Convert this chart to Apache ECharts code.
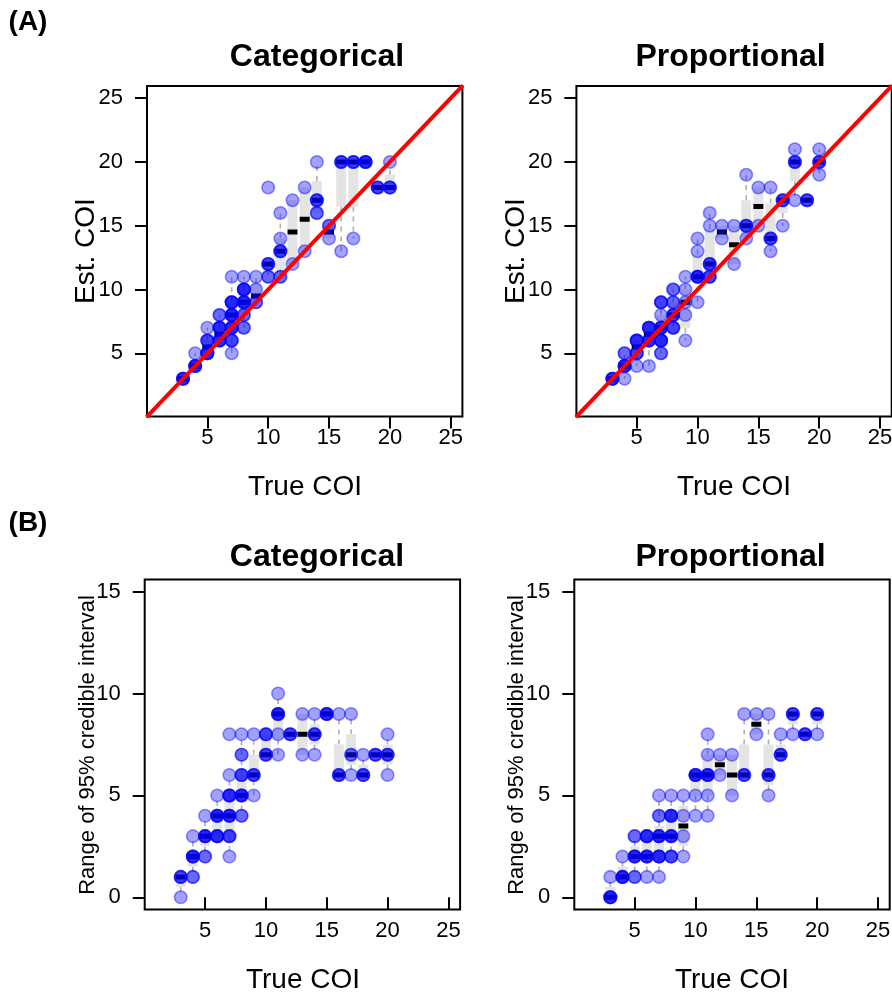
<!DOCTYPE html>
<html><head><meta charset="utf-8">
<script src="https://cdn.jsdelivr.net/npm/echarts@6/dist/echarts.min.js"></script>
<style>html,body{margin:0;padding:0;background:#fff}#c{width:892px;height:995px}</style>
</head><body><div id="c"></div><script>
// ---------- data ----------
const xTicks = [5, 10, 15, 20, 25];
const estTicks = [5, 10, 15, 20, 25];
const rangeTicks = [0, 5, 10, 15];
const panelTitles = ['Categorical', 'Proportional'];
const refLine = [[0, 0], [26, 26]];

// points: [true COI, value, number of overlapping samples]
const catEstPts = [
  [3,3,4],[4,4,4],[4,5,1],[5,5,4],[5,6,3],[5,7,1],[6,6,4],[6,7,4],[6,8,2],
  [7,5,1],[7,6,3],[7,7,4],[7,8,4],[7,9,4],[7,11,1],
  [8,7,2],[8,8,2],[8,9,4],[8,10,4],[8,11,1],
  [9,9,2],[9,10,1],[9,11,1],[10,11,2],[10,12,3],[10,18,1],
  [11,11,2],[11,13,3],[11,14,1],[11,16,1],[12,12,1],[12,17,1],[13,13,1],[13,18,1],
  [14,16,2],[14,17,3],[14,20,1],[15,14,1],[15,15,2],[16,13,1],[16,20,3],
  [17,14,1],[17,20,3],[18,20,4],[19,18,3],[20,18,3],[20,20,1]
];
// boxes: [true COI, whisker low, Q1, median, Q3, whisker high]
const catEstBox = [
  [3,3,3,3,3,3],[4,4,4,4,4,5],[5,5,5,5.5,6,7],[6,6,6,6.5,7,8],[7,5,7,8,9,11],
  [8,7,8,9,10,11],[9,9,9,9.5,10.5,11],[10,11,11.5,12,12,12],[11,11,11.5,13,14,16],
  [12,12,12,14.5,17,17],[13,13,13,15.5,18,18],[14,16,16,17,18.5,20],[15,14,14,14.5,15,15],
  [16,13,16.5,20,20,20],[17,14,16.5,20,20,20],[18,20,20,20,20,20],[19,18,18,18,18,18],
  [20,18,18,18,19,20]
];
const propEstPts = [
  [3,3,4],[4,3,1],[4,4,4],[4,5,2],[5,4,1],[5,5,3],[5,6,4],[6,4,1],[6,6,4],[6,7,4],
  [7,5,2],[7,6,4],[7,7,4],[7,8,1],[7,9,3],[8,7,3],[8,8,3],[8,9,2],[8,10,2],
  [9,6,1],[9,8,1],[9,9,1],[9,10,1],[9,11,1],[10,9,1],[10,11,4],[10,13,1],[10,14,1],
  [11,11,3],[11,12,3],[11,15,1],[11,16,1],[12,14,1],[12,15,1],[13,12,1],[13,15,1],
  [14,14,1],[14,15,3],[14,19,1],[15,15,1],[15,18,1],[16,13,1],[16,14,3],[16,18,1],
  [17,15,1],[17,17,3],[18,17,1],[18,20,3],[18,21,1],[19,17,3],[20,19,1],[20,20,3],[20,21,1]
];
const propEstBox = [
  [3,3,3,3,3,3],[4,3,4,4,4.5,5],[5,4,5,5.5,6,6],[6,4,6,6.5,7,7],[7,5,6,7,8,9],
  [8,7,7.5,8,9,10],[9,6,7,9,10,11],[10,9,11,11,12.75,14],[11,11,11.5,12,14.75,16],
  [12,14,14,14.5,15,15],[13,12,12,13.5,15,15],[14,14,14,15,17,19],[15,15,15,16.5,18,18],
  [16,13,14,14,16.75,18],[17,15,16,17,17,17],[18,17,18.5,20,20,21],[19,17,17,17,17,17],
  [20,19,19.5,20,20,21]
];
const catRangePts = [
  [3,0,1],[3,1,3],[4,1,2],[4,2,4],[4,3,1],[5,2,2],[5,3,4],[5,4,1],[6,3,4],[6,4,4],[6,5,1],
  [7,2,1],[7,3,3],[7,4,4],[7,5,4],[7,6,1],[7,8,1],[8,4,2],[8,5,4],[8,6,3],[8,7,2],[8,8,1],
  [9,5,1],[9,6,3],[9,8,1],[10,7,3],[10,8,3],[11,7,1],[11,8,1],[11,9,4],[11,10,1],
  [12,8,3],[13,7,1],[13,9,1],[14,7,1],[14,8,3],[14,9,1],[15,9,4],[16,6,3],[16,9,1],
  [17,6,1],[17,7,2],[17,9,1],[18,6,3],[18,7,1],[19,7,3],[20,6,1],[20,7,3],[20,8,1]
];
const catRangeBox = [
  [3,0,0.5,1,1,1],[4,1,1.5,2,2,3],[5,2,2.5,3,3,4],[6,3,3,4,4,5],[7,2,3,4,5,6],
  [8,4,5,5,6,8],[9,5,5.75,6,7,8],[10,7,7,7,8,8],[11,7,7.75,9,9,10],[12,8,8,8,8,8],
  [13,7,7,8,9,9],[14,7,7.5,8,8.5,9],[15,9,9,9,9,9],[16,6,6,6,7.5,9],[17,6,6.5,7,8,9],
  [18,6,6,6,6.5,7],[19,7,7,7,7,7],[20,6,6.5,7,7.5,8]
];
const propRangePts = [
  [3,0,4],[3,1,1],[4,1,4],[4,2,1],[5,1,2],[5,2,4],[5,3,2],[6,1,1],[6,2,4],[6,3,4],
  [7,1,1],[7,2,4],[7,3,4],[7,4,2],[7,5,1],[8,2,3],[8,3,4],[8,4,4],[8,5,1],
  [9,2,1],[9,3,1],[9,4,1],[9,5,1],[10,4,1],[10,5,1],[10,6,4],
  [11,4,1],[11,5,1],[11,6,4],[11,7,1],[11,8,1],[12,6,1],[12,7,1],[13,5,1],[13,7,1],
  [14,6,3],[14,9,1],[15,8,1],[15,9,1],[16,5,1],[16,6,3],[16,9,1],[17,7,3],[17,8,1],
  [18,8,1],[18,9,3],[19,8,3],[20,8,1],[20,9,3]
];
const propRangeBox = [
  [3,0,0,0,0.5,1],[4,1,1,1,1.5,2],[5,1,2,2,2.5,3],[6,1,2,2,3,3],[7,1,2,3,3.5,5],
  [8,2,3,3,4,5],[9,2,2.5,3.5,4.5,5],[10,4,5,6,6,6],[11,4,5,6,7,8],[12,6,6,6.5,7,7],
  [13,5,5,6,7,7],[14,6,6,6,7.5,9],[15,8,8,8.5,9,9],[16,5,5.5,6,7.5,9],[17,7,7,7,7.5,8],
  [18,8,8.5,9,9,9],[19,8,8,8,8,8],[20,8,8.5,9,9,9]
];

// ---------- chart ----------
const FONT = "'Liberation Sans', Arial, Helvetica, sans-serif";
const BOXW = 0.82;
function expand(pts){ const out=[]; pts.forEach(p=>{ for(let i=0;i<p[2];i++) out.push([p[0],p[1]]); }); return out; }

function renderBox(params, api){
  const x=api.value(0), lo=api.value(1), q1=api.value(2), med=api.value(3), q3=api.value(4), hi=api.value(5);
  const hw = api.size([BOXW,0])[0]/2;
  const pLo=api.coord([x,lo]), pQ1=api.coord([x,q1]), pMed=api.coord([x,med]), pQ3=api.coord([x,q3]), pHi=api.coord([x,hi]);
  const cx=pMed[0];
  const wStyle={stroke:'#b0b0b0', lineWidth:1.6, lineDash:[5,5]};
  const ch=[];
  if (pHi[1] < pQ3[1]-0.5) ch.push({type:'line', shape:{x1:cx,y1:pQ3[1],x2:cx,y2:pHi[1]}, style:wStyle});
  if (pLo[1] > pQ1[1]+0.5) ch.push({type:'line', shape:{x1:cx,y1:pQ1[1],x2:cx,y2:pLo[1]}, style:wStyle});
  ch.push({type:'rect', shape:{x:cx-hw, y:pQ3[1], width:2*hw, height:Math.max(0,pQ1[1]-pQ3[1])}, style:{fill:'#e4e4e4'}});
  ch.push({type:'rect', shape:{x:cx-hw, y:pMed[1]-2.5, width:2*hw, height:5}, style:{fill:'#000'}});
  return {type:'group', children:ch};
}

const grids = [
  {left:147, top:86, width:315.4, height:330.5},
  {left:576.4, top:86, width:315.3, height:330.5},
  {left:144.7, top:579.5, width:315.4, height:330},
  {left:574.3, top:579.5, width:315.4, height:330}
].map(g=>Object.assign({show:true, borderColor:'#000', borderWidth:2, backgroundColor:'transparent', containLabel:false, outerBoundsMode:'none'}, g));

function xAx(i){
  return {type:'value', gridIndex:i, min:0.04, max:25.96,
    axisLine:{show:false}, splitLine:{show:false},
    axisTick:{show:true, customValues:xTicks, length:12, lineStyle:{color:'#000', width:2}},
    axisLabel:{customValues:xTicks, color:'#000', fontSize:22, fontFamily:FONT, margin:10}};
}
function yAx(i, est){
  const t = est ? estTicks : rangeTicks;
  return {type:'value', gridIndex:i, min: est?0.04:-0.6, max: est?25.96:15.6,
    axisLine:{show:false}, splitLine:{show:false},
    axisTick:{show:true, customValues:t, length:12, lineStyle:{color:'#000', width:2}},
    axisLabel:{customValues:t, color:'#000', fontSize:22, fontFamily:FONT, margin:24}};
}

const panels = [
  {pts:catEstPts, box:catEstBox, ref:true},
  {pts:propEstPts, box:propEstBox, ref:true},
  {pts:catRangePts, box:catRangeBox, ref:false},
  {pts:propRangePts, box:propRangeBox, ref:false}
];
const series=[];
panels.forEach((p,i)=>{
  series.push({type:'custom', xAxisIndex:i, yAxisIndex:i, data:p.box, renderItem:renderBox, clip:true, silent:true, z:1});
  series.push({type:'scatter', xAxisIndex:i, yAxisIndex:i, data:expand(p.pts), symbol:'circle', symbolSize:12.5, silent:true, z:2,
    itemStyle:{color:'rgba(0,0,255,0.36)', borderColor:'rgba(0,0,255,0.42)', borderWidth:1.6, opacity:1}});
  if (p.ref) series.push({type:'line', xAxisIndex:i, yAxisIndex:i, data:refLine, showSymbol:false, symbol:'none', clip:true, silent:true, z:3,
    lineStyle:{color:'#ff0000', width:4}});
});

function txt(x,y,s,size,bold,rot){
  return {type:'text', x:x, y:y, rotation:rot||0, silent:true,
    style:{text:s, fontSize:size, fontWeight:bold?'bold':'normal', fontFamily:FONT, fill:'#000', textAlign:'center', textVerticalAlign:'middle'}};
}
const graphics = [
  txt(28,22,'(A)',28,true), txt(28,523,'(B)',28,true),
  txt(317,57,panelTitles[0],32,true), txt(730.5,57,panelTitles[1],32,true),
  txt(317,557,panelTitles[0],32,true), txt(730.5,557,panelTitles[1],32,true),
  txt(86,251,'Est. COI',28,false,Math.PI/2), txt(516,251,'Est. COI',28,false,Math.PI/2),
  txt(305,487,'True COI',28,false), txt(734,487,'True COI',28,false),
  txt(303,980,'True COI',28,false), txt(732,980,'True COI',28,false),
  txt(88,745,'Range of 95% credible interval',22,false,Math.PI/2),
  txt(517,745,'Range of 95% credible interval',22,false,Math.PI/2)
];

const chart = echarts.init(document.getElementById('c'), null, {renderer:'canvas'});
chart.setOption({
  animation:false, backgroundColor:'#fff',
  grid:grids,
  xAxis:[0,1,2,3].map(xAx),
  yAxis:[yAx(0,true),yAx(1,true),yAx(2,false),yAx(3,false)],
  series:series,
  graphic:graphics
});
</script></body></html>
